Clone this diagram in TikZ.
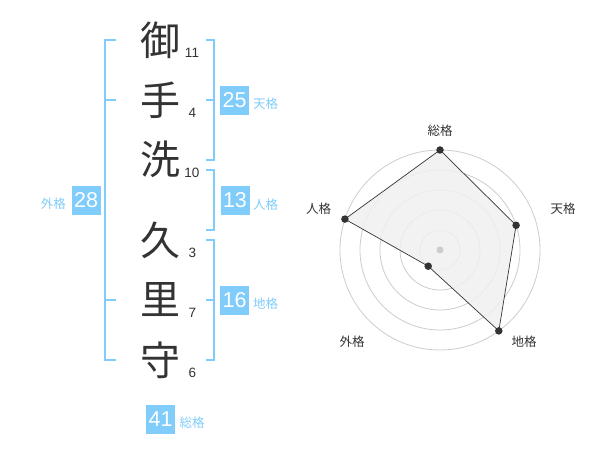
\documentclass[tikz,border=0pt]{standalone}
\usepackage{fontspec}
\setmainfont{Noto Sans CJK JP}
\newfontfamily\numfont{Liberation Sans}
\definecolor{kblue}{RGB}{128,204,250}
\definecolor{kdark}{RGB}{51,51,51}
\definecolor{kring}{RGB}{204,204,204}
\definecolor{kfill}{RGB}{240,240,240}
\tikzset{
  kanji/.style={text=kdark,font=\fontsize{40}{40}\selectfont,inner sep=0pt},
  stroke/.style={text=kdark,font=\numfont\fontsize{13.5}{13.5}\selectfont,inner sep=0pt},
  kakubox/.style={fill=kblue,text=white,minimum width=29pt,minimum height=29pt,inner sep=0pt,font=\numfont\fontsize{21.5}{21.5}\selectfont},
  kakulbl/.style={text=kblue,font=\fontsize{12.5}{12.5}\selectfont,inner sep=0pt},
  brk/.style={draw=kblue,line width=2pt},
  ring/.style={draw=kring,line width=0.8pt},
  radlbl/.style={text=kdark,font=\fontsize{12.5}{12.5}\selectfont,inner sep=0pt},
  vdot/.style={circle,fill=kdark,minimum size=7.5pt,inner sep=0pt},
}
\begin{document}
\begin{tikzpicture}[x=1pt,y=-1pt]
\useasboundingbox (0,0) rectangle (600,470);
% characters
\node[kanji] (c1) at (160,40) {御};
\node[kanji] (c2) at (160,100) {手};
\node[kanji] (c3) at (160,159) {洗};
\node[kanji] (c4) at (160,240) {久};
\node[kanji] (c5) at (160,300) {里};
\node[kanji] (c6) at (160,360) {守};
% stroke numbers
\node[stroke] (s1) at (192,53) {11};
\node[stroke] (s2) at (192.5,113) {4};
\node[stroke] (s3) at (192,173) {10};
\node[stroke] (s4) at (192.5,252.7) {3};
\node[stroke] (s5) at (192.5,313) {7};
\node[stroke] (s6) at (192.5,372.7) {6};
% brackets
\draw[brk] (116,40) -- (105,40) -- (105,360) -- (116,360);
\draw[brk] (105,100) -- (116,100);
\draw[brk] (105,300) -- (116,300);
\draw[brk] (206,40) -- (214.3,40) -- (214.3,160) -- (206,160);
\draw[brk] (214.3,100) -- (206,100);
\draw[brk] (206,170) -- (214.3,170) -- (214.3,230) -- (206,230);
\draw[brk] (206,240) -- (214.3,240) -- (214.3,360) -- (206,360);
\draw[brk] (214.3,300) -- (206,300);
% boxes
\node[kakubox] (b25) at (234.7,100.3) {25};
\node[kakulbl,anchor=west] (l25) at (253,103.5) {天格};
\node[kakubox] (b13) at (235,200.5) {13};
\node[kakulbl,anchor=west] (l13) at (253,204.5) {人格};
\node[kakubox] (b16) at (234.7,300.2) {16};
\node[kakulbl,anchor=west] (l16) at (253,303.5) {地格};
\node[kakubox] (b28) at (86.2,200.4) {28};
\node[kakulbl,anchor=east] (l28) at (66,203.5) {外格};
\node[kakubox] (b41) at (160.7,419.2) {41};
\node[kakulbl,anchor=west] (l41) at (179.5,422.5) {総格};
% radar
\coordinate (ctr) at (440,250);
\foreach \r in {20,40,60,80,100} \draw[ring] (ctr) circle[radius=\r];
\coordinate (psou) at (440,150);
\coordinate (pten) at (516.1,225.3);
\coordinate (pchi) at (498.8,330.9);
\coordinate (pgai) at (428.2,266.2);
\coordinate (pjin) at (344.9,219.1);
\draw[fill=kfill,fill opacity=0.85,draw=kdark,line width=0.7pt] (psou) -- (pten) -- (pchi) -- (pgai) -- (pjin) -- cycle;
\node[circle,fill=kring,minimum size=7pt,inner sep=0pt] (cdot) at (ctr) {};
\node[vdot] (dsou) at (psou) {};
\node[vdot] (dten) at (pten) {};
\node[vdot] (dchi) at (pchi) {};
\node[vdot] (dgai) at (pgai) {};
\node[vdot] (djin) at (pjin) {};
\node[radlbl] (rsou) at (440,131) {総格};
\node[radlbl] (rten) at (563,209) {天格};
\node[radlbl] (rchi) at (524,342) {地格};
\node[radlbl] (rgai) at (352,342) {外格};
\node[radlbl] (rjin) at (318.5,209) {人格};
\end{tikzpicture}
\end{document}
